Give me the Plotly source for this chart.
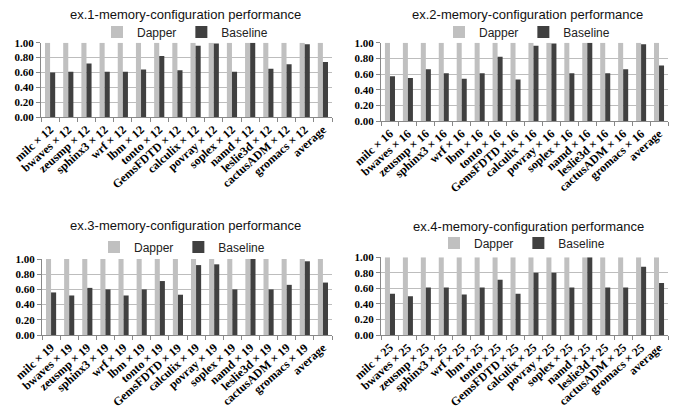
import plotly.graph_objects as go

benchmarks = ["milc", "bwaves", "zeusmp", "sphinx3", "wrf", "lbm", "tonto", "GemsFDTD",
              "calculix", "povray", "soplex", "namd", "leslie3d", "cactusADM", "gromacs"]
core_counts = [12, 16, 19, 25]
titles = ["ex.1-memory-configuration performance", "ex.2-memory-configuration performance",
          "ex.3-memory-configuration performance", "ex.4-memory-configuration performance"]

dapper_1 = [1.00] * 16
dapper_2 = [1.00] * 16
dapper_3 = [1.00] * 16
dapper_4 = [1.00] * 16

baseline_1 = [0.60, 0.61, 0.72, 0.61, 0.61, 0.64, 0.82, 0.63, 0.96, 0.99, 0.61, 1.00, 0.65, 0.71, 0.98, 0.74]
baseline_2 = [0.57, 0.55, 0.66, 0.61, 0.54, 0.61, 0.82, 0.53, 0.96, 0.99, 0.61, 1.00, 0.61, 0.66, 0.98, 0.71]
baseline_3 = [0.56, 0.52, 0.62, 0.60, 0.52, 0.60, 0.71, 0.53, 0.92, 0.93, 0.60, 1.00, 0.60, 0.66, 0.97, 0.69]
baseline_4 = [0.53, 0.50, 0.61, 0.61, 0.52, 0.61, 0.71, 0.53, 0.80, 0.80, 0.61, 1.00, 0.61, 0.61, 0.88, 0.67]

dappers = [dapper_1, dapper_2, dapper_3, dapper_4]
baselines = [baseline_1, baseline_2, baseline_3, baseline_4]

W, H = 687, 416
# plot areas in pixels: (left, right, top(1.00), bottom(0.00))
boxes = [(41, 332, 42.7, 117), (381, 668, 42.7, 121), (42, 332, 259, 335), (381, 668, 257.3, 335)]
title_pos = [(185, 15), (527, 15), (185, 225), (528, 227)]
legend_pos = [(185, 32), (527, 32), (182, 247), (522, 243)]

LIGHT = "#c0c0c0"
DARK = "#404040"
ytickfont = dict(family="Liberation Serif", size=11, color="#000", weight="bold")
xtickfont = dict(family="Liberation Serif", size=12, color="#000", weight="bold")

fig = go.Figure()
layout = dict(width=W, height=H, margin=dict(l=0, r=0, t=0, b=0, autoexpand=False),
              paper_bgcolor="white", plot_bgcolor="white",
              barmode="group", bargap=0.44, bargroupgap=0, annotations=[])

for i in range(4):
    n = core_counts[i]
    cats = [f"{b} × {n}" for b in benchmarks] + ["average"]
    sfx = "" if i == 0 else str(i + 1)
    leg = "legend" if i == 0 else f"legend{i + 1}"
    fig.add_trace(go.Bar(x=cats, y=dappers[i], name="Dapper", marker=dict(color=LIGHT, line_width=0),
                         xaxis="x" + sfx, yaxis="y" + sfx, legend=leg, offsetgroup="d"))
    fig.add_trace(go.Bar(x=cats, y=baselines[i], name="Baseline", marker=dict(color=DARK, line_width=0),
                         xaxis="x" + sfx, yaxis="y" + sfx, legend=leg, offsetgroup="b"))
    l, r, t, b = boxes[i]
    layout["xaxis" + sfx] = dict(domain=[l / W, r / W], anchor="y" + sfx, type="category",
                                 tickangle=-42, tickfont=xtickfont, showline=True, linecolor="#888",
                                 linewidth=1, ticks="outside", ticklen=4, tickcolor="#888",
                                 tickson="boundaries", showgrid=False, automargin=False)
    layout["yaxis" + sfx] = dict(domain=[1 - b / H, 1 - t / H], anchor="x" + sfx, range=[0, 1.0001],
                                 dtick=0.2, tick0=0, tickformat=".2f", tickfont=ytickfont,
                                 showgrid=True, gridcolor="#bdbdbd", gridwidth=1,
                                 showline=True, linecolor="#888", ticks="outside", ticklen=4,
                                 tickcolor="#888", zeroline=False, automargin=False)
    lx, ly = legend_pos[i]
    layout[leg] = dict(orientation="h", x=lx / W, y=1 - ly / H, xanchor="center", yanchor="middle",
                       font=dict(family="Liberation Sans", size=12, color="#222"),
                       bgcolor="rgba(0,0,0,0)", itemwidth=30, tracegroupgap=0)
    tx, ty = title_pos[i]
    layout["annotations"].append(dict(text=titles[i], x=tx / W, y=1 - ty / H, xref="paper", yref="paper",
                                      xanchor="center", yanchor="middle", showarrow=False,
                                      font=dict(family="Liberation Sans", size=13, color="#111")))

fig.update_layout(**layout)
fig.write_html("out.html", config={"displayModeBar": False},
               post_script="document.body.style.margin='0';document.body.style.overflow='hidden';")
